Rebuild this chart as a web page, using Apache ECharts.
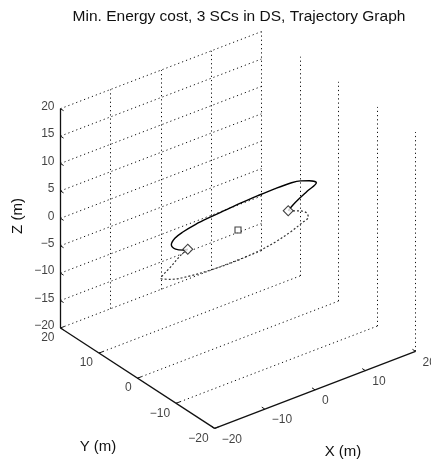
<!DOCTYPE html>
<html><head><meta charset="utf-8">
<script src="https://cdn.jsdelivr.net/npm/echarts@6/dist/echarts.min.js"></script>
<style>html,body{margin:0;padding:0;background:#fff}#c{width:431px;height:464px}</style>
</head><body><div id="c"></div>
<script>
// ---- data ----
const titleText = 'Min. Energy cost, 3 SCs in DS, Trajectory Graph';
const xTicks = [-20, -10, 0, 10, 20];
const yTicks = [20, 10, 0, -10, -20];
const zTicks = [-20, -15, -10, -5, 0, 5, 10, 15, 20];
const xTickLabels = ['−20', '−10', '0', '10', '20'];
const yTickLabels = ['20', '10', '0', '−10', '−20'];
const zTickLabels = ['−20', '−15', '−10', '−5', '0', '5', '10', '15', '20'];

// spacecraft 1 (solid)
const sc1X = [10.0, 12.3, 16.2, 18.9, 18.4, 17.3, 15.8, 12.5, 9.1, 5.6, 2.6, -0.9, -4.2, -7.3, -9.5, -11.2, -11.5, -10.7, -10.0];
const sc1Y = [0.0, 1.3, 3.1, 4.3, 5.5, 6.3, 6.7, 6.8, 6.7, 6.5, 6.2, 5.9, 5.5, 4.8, 4.0, 2.7, 1.2, 0.2, 0.0];
const sc1Z = [0, 0, 0, 0, 0, 0, 0, 0, 0, 0, 0, 0, 0, 0, 0, 0, 0, 0, 0];
// spacecraft 2 (dotted)
const sc2X = [-10.0, -12.0, -15.6, -18.1, -19.0, -17.9, -14.8, -11.1, -7.3, -4.2, -1.0, 2.4, 6.3, 9.3, 11.3, 11.9, 11.4, 10.6, 10.0];
const sc2Y = [0.0, -0.8, -2.8, -4.1, -4.7, -5.9, -6.9, -7.4, -7.6, -7.5, -7.2, -6.6, -5.5, -4.4, -3.5, -2.3, -1.1, -0.5, 0.0];
const sc2Z = [0, 0, 0, 0, 0, 0, 0, 0, 0, 0, 0, 0, 0, 0, 0, 0, 0, 0, 0];
// spacecraft markers
const markX = [10, -10, 0];
const markY = [0, 0, 0];
const markZ = [0, 0, 0];
const markShape = ['diamond', 'diamond', 'square'];

// ---- view (MATLAB default az/el) ----
const AZ = -37.5 * Math.PI / 180, EL = 30 * Math.PI / 180;
function proj(x, y, z) {
  return [x * Math.cos(AZ) + y * Math.sin(AZ),
          -x * Math.sin(AZ) * Math.sin(EL) + y * Math.cos(AZ) * Math.sin(EL) + z * Math.cos(EL)];
}
const K = 6.33, OX = 238, OY = 230, W = 431, H = 464;
const FONT = 'Liberation Sans, Arial, Helvetica, sans-serif';

function seg(a, b) { return { coords: [proj(a[0], a[1], a[2]), proj(b[0], b[1], b[2])] }; }

const gridSegs = [];
zTicks.forEach(z => gridSegs.push(seg([-20, 20, z], [20, 20, z])));
[-10, 0, 10, 20].forEach(x => gridSegs.push(seg([x, 20, -20], [x, 20, 20])));
[10, 0, -10, -20].forEach(y => gridSegs.push(seg([20, y, -20], [20, y, 20])));
[10, 0, -10].forEach(y => gridSegs.push(seg([-20, y, -20], [20, y, -20])));

const axisSegs = [
  seg([-20, 20, -20], [-20, 20, 20]),
  seg([-20, 20, -20], [-20, -20, -20]),
  seg([-20, -20, -20], [20, -20, -20])
];
const tickSegs = [];
zTicks.forEach(z => tickSegs.push(seg([-20, 20, z], [-20, 19.2, z])));
yTicks.forEach(y => tickSegs.push(seg([-20, y, -20], [-19.2, y, -20])));
xTicks.forEach(x => tickSegs.push(seg([x, -20, -20], [x, -19.2, -20])));

function path(X, Y, Z) { return X.map((x, i) => proj(x, Y[i], Z[i])); }

function labelSeries(pts, texts, align, offset) {
  return {
    type: 'scatter', silent: true, symbolSize: 0, z: 5,
    data: pts.map((p, i) => ({ value: p, name: texts[i] })),
    label: { show: true, formatter: '{b}', position: [0, 0], align: align, verticalAlign: 'middle',
      offset: offset, color: '#111', fontSize: 12, fontFamily: FONT }
  };
}

const option = {
  animation: false,
  backgroundColor: '#fff',
  grid: { left: 0, top: 0, width: W, height: H },
  xAxis: { type: 'value', min: -OX / K, max: (W - OX) / K, show: false },
  yAxis: { type: 'value', min: -(H - OY) / K, max: OY / K, show: false },
  graphic: [
    { type: 'text', x: 239, y: 17, style: { text: titleText, align: 'center', verticalAlign: 'middle', font: '15.5px ' + FONT, fill: '#111' } },
    { type: 'text', x: 18, y: 216, rotation: Math.PI / 2, style: { text: 'Z (m)', align: 'center', verticalAlign: 'middle', font: '15px ' + FONT, fill: '#111' } },
    { type: 'text', x: 98, y: 447, style: { text: 'Y (m)', align: 'center', verticalAlign: 'middle', font: '15px ' + FONT, fill: '#111' } },
    { type: 'text', x: 343, y: 452, style: { text: 'X (m)', align: 'center', verticalAlign: 'middle', font: '15px ' + FONT, fill: '#111' } }
  ],
  series: [
    { type: 'lines', coordinateSystem: 'cartesian2d', silent: true, data: gridSegs,
      lineStyle: { color: '#111', width: 1, type: [1.2, 3], opacity: 1 } },
    { type: 'lines', coordinateSystem: 'cartesian2d', silent: true, data: axisSegs,
      lineStyle: { color: '#111', width: 1.3, opacity: 1 } },
    { type: 'lines', coordinateSystem: 'cartesian2d', silent: true, data: tickSegs,
      lineStyle: { color: '#111', width: 1, opacity: 1 } },
    { type: 'line', name: 'SC1', data: path(sc1X, sc1Y, sc1Z), showSymbol: false, smooth: 0.35,
      lineStyle: { color: '#000', width: 1.4 } },
    { type: 'line', name: 'SC2', data: path(sc2X, sc2Y, sc2Z), showSymbol: false, smooth: 0.35,
      lineStyle: { color: '#333', width: 1.2, type: [2, 2] } },
    { type: 'scatter', name: 'SCs', z: 6,
      data: markX.map((x, i) => ({ value: proj(x, markY[i], markZ[i]),
        symbol: 'rect', symbolRotate: markShape[i] === 'diamond' ? 45 : 0,
        symbolSize: markShape[i] === 'diamond' ? 7 : 6 })),
      itemStyle: { color: '#fff', borderColor: '#111', borderWidth: 1.1 } },
    labelSeries(zTicks.map(z => proj(-20, 20, z)), zTickLabels, 'right', [-6, -2]),
    labelSeries(yTicks.map(y => proj(-20, y, -20)), yTickLabels, 'right', [-6, 10]),
    labelSeries(xTicks.map(x => proj(x, -20, -20)), xTickLabels, 'left', [7, 11])
  ]
};
const chart = echarts.init(document.getElementById('c'), null, { renderer: 'canvas' });
chart.setOption(option);
</script>
</body></html>
